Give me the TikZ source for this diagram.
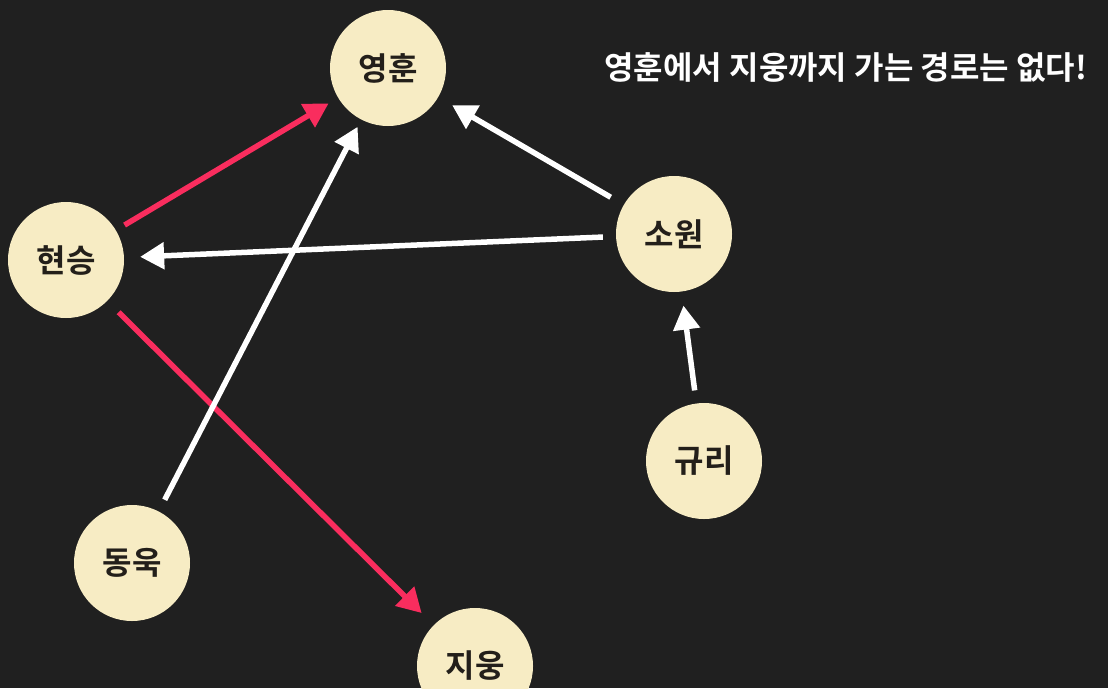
\documentclass[tikz,border=0pt]{standalone}
\usepackage{fontspec}
\setmainfont{Noto Sans CJK KR}[BoldFont={* Bold}]
\usetikzlibrary{arrows.meta}
\definecolor{bg}{HTML}{202020}
\definecolor{cream}{HTML}{F7ECC4}
\definecolor{ink}{HTML}{231F1A}
\definecolor{hot}{HTML}{F92D5E}
\tikzset{
  person/.style={circle,fill=cream,minimum size=116pt,inner sep=0pt,text=ink,font=\fontsize{32}{38}\selectfont\bfseries},
  note/.style={anchor=west,text=white,font=\fontsize{32}{38}\selectfont\bfseries},
  ar/.style={-{Triangle[length=24pt,width=26pt]},draw=white,line width=5.5pt,shorten <=12pt,shorten >=12pt},
  arh/.style={ar,draw=hot},
}
\begin{document}
\begin{tikzpicture}[x=1pt,y=-1pt]
  \fill[bg] (0,0) rectangle (1108,688);
  \useasboundingbox (0,0) rectangle (1108,688);
  \node[person] (yh) at (388,68) {영훈};
  \node[person] (hs) at (66,260) {현승};
  \node[person] (sw) at (674,234) {소원};
  \node[person] (gr) at (704,461) {규리};
  \node[person] (du) at (132,563) {동욱};
  \node[person] (ju) at (475,666) {지웅};
  \node[note] (msg) at (601,67) {영훈에서 지웅까지 가는 경로는 없다!};
  \draw[arh,shorten <=10pt,shorten >=11pt] (hs) -- (yh);
  \draw[arh,shorten <=16pt,shorten >=17pt] (hs) -- (ju);
  \draw[ar,shorten <=15pt,shorten >=16pt] (sw) -- (yh);
  \draw[ar,shorten <=13pt,shorten >=16pt] (sw) -- (hs);
  \draw[ar,shorten <=13pt,shorten >=8pt] (du) -- (yh);
  \draw[ar,shorten <=13pt,shorten >=14pt] (gr) -- (sw);
\end{tikzpicture}
\end{document}
